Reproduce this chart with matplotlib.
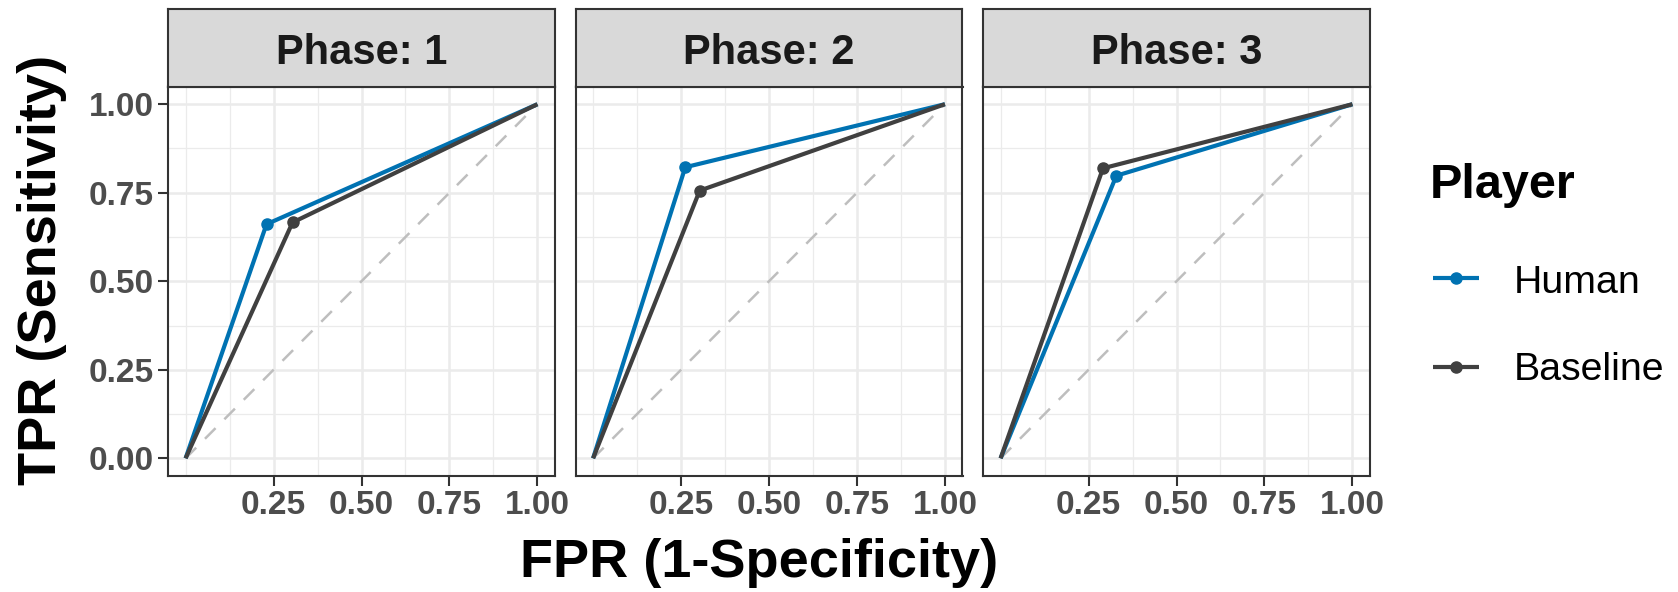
import matplotlib
matplotlib.use("Agg")
import matplotlib.pyplot as plt
from matplotlib.lines import Line2D

plt.rcParams['font.family'] = ['Liberation Sans', 'DejaVu Sans']

phases = ["Phase: 1", "Phase: 2", "Phase: 3"]
players = ["Human", "Baseline"]
human_fpr = [0.23, 0.262, 0.329]
human_tpr = [0.661, 0.822, 0.798]
base_fpr = [0.304, 0.303, 0.291]
base_tpr = [0.666, 0.756, 0.819]
colors = {"Human": "#0072B2", "Baseline": "#404040"}
x_ticks = [0.25, 0.50, 0.75, 1.00]
x_tick_labels = ["0.25", "0.50", "0.75", "1.00"]
y_ticks = [0.00, 0.25, 0.50, 0.75, 1.00]
y_tick_labels = ["0.00", "0.25", "0.50", "0.75", "1.00"]
minor_ticks = [0.0, 0.125, 0.375, 0.625, 0.875]

W, H = 1678, 592
fig = plt.figure(figsize=(W / 100, H / 100), dpi=100)

def px(l, t, r, b):
    return [l / W, 1 - b / H, (r - l) / W, (b - t) / H]

panel_w = 387
gap = 20.5
top_strip, top_panel, bottom_panel = 9, 86.5, 476

for i, ph in enumerate(phases):
    left = 168 + i * (panel_w + gap)
    right = left + panel_w
    ax = fig.add_axes(px(left, top_panel, right, bottom_panel))
    ax.set_xlim(-0.05, 1.05)
    ax.set_ylim(-0.05, 1.05)
    # grid
    for v in minor_ticks:
        ax.axvline(v, color="#EBEBEB", lw=0.9, zorder=0)
        ax.axhline(v, color="#EBEBEB", lw=0.9, zorder=0)
    for v in y_ticks[1:]:
        ax.axvline(v, color="#EBEBEB", lw=1.8, zorder=0)
    for v in y_ticks:
        ax.axhline(v, color="#EBEBEB", lw=1.8, zorder=0)
    ax.plot([0, 1], [0, 1], color="#BEBEBE", lw=1.8, dashes=(6, 5), zorder=1)
    for name, fx, ty in (("Human", human_fpr, human_tpr), ("Baseline", base_fpr, base_tpr)):
        ax.plot([0, fx[i], 1], [0, ty[i], 1], color=colors[name], lw=3.0,
                marker="o", markevery=[1], markersize=8, zorder=2,
                solid_capstyle="butt")
    ax.set_xticks(x_ticks)
    ax.set_xticklabels(x_tick_labels)
    ax.set_yticks(y_ticks)
    if i == 0:
        ax.set_yticklabels(y_tick_labels)
    else:
        ax.tick_params(axis="y", left=False, labelleft=False)
    ax.tick_params(axis="both", length=7, width=1.5, color="#333333",
                   labelsize=24, labelcolor="#4D4D4D", pad=3)
    for lab in ax.get_xticklabels() + ax.get_yticklabels():
        lab.set_fontweight("bold")
    for s in ax.spines.values():
        s.set_color("#333333")
        s.set_linewidth(1.5)
    ax.set_facecolor("white")

    sax = fig.add_axes(px(left, top_strip, right, top_panel))
    sax.set_facecolor("#D9D9D9")
    sax.set_xticks([])
    sax.set_yticks([])
    for s in sax.spines.values():
        s.set_color("#333333")
        s.set_linewidth(1.5)
    sax.text(0.5, 1 - (64.3 - top_strip) / (top_panel - top_strip), ph,
             ha="center", va="baseline", fontsize=30,
             fontweight="bold", color="#1A1A1A", transform=sax.transAxes)

fig.text(759 / W, 1 - 577.5 / H, "FPR (1-Specificity)", ha="center", va="baseline",
         fontsize=39, fontweight="bold", color="black")
fig.text(42 / W, 1 - 270 / H, "TPR (Sensitivity)", ha="center", va="center",
         rotation=90, fontsize=39, fontweight="bold", color="black")

# legend
fig.text(1430 / W, 1 - 198 / H, "Player", ha="left", va="baseline",
         fontsize=35, fontweight="bold", color="black")
for name, yk, yb in (("Human", 277.7, 293.3), ("Baseline", 366.7, 380.0)):
    y = 1 - yk / H
    fig.add_artist(Line2D([1433 / W, 1479 / W], [y, y], color=colors[name], lw=3.0,
                          solid_capstyle="butt"))
    fig.add_artist(Line2D([1456 / W], [y], color=colors[name], marker="o",
                          markersize=8, lw=0))
    fig.text(1514 / W, 1 - yb / H, name, ha="left", va="baseline",
             fontsize=28.3, color="black")

fig.savefig("out.png", dpi=100, facecolor="white")
